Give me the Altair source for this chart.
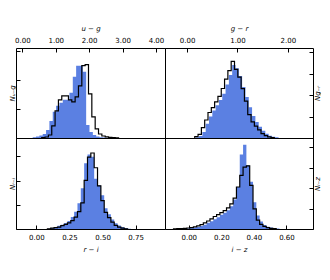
import altair as alt
import pandas as pd

BLUE = "#5b80e2"

# ---- u - g ----
ug_blue_start, ug_black_start, ug_width = 0.31, 0.58, 0.1
ug_blue = [0.024, 0.052, 0.086, 0.138, 0.276, 0.586, 0.897, 1.103, 1.207, 1.310, 1.310,
           1.552, 2.103, 2.483, 2.483, 2.276, 0.448, 0.207, 0.103, 0.052, 0.028, 0.014, 0.007]
ug_black = [0.010, 0.034, 0.103, 0.414, 0.931, 1.310, 1.448, 1.448, 1.310, 1.241, 1.414,
            1.793, 2.483, 2.517, 1.517, 0.724, 0.310, 0.138, 0.069, 0.041, 0.024, 0.014, 0.007]

# ---- g - r ----
gr_blue_start, gr_black_start, gr_width = 0.171, 0.151, 0.0658
gr_blue = [0.03, 0.09, 0.28, 0.66, 1.00, 1.28, 1.53, 1.77, 2.06, 2.50, 2.94, 3.41, 3.25,
           2.89, 2.38, 1.91, 1.44, 1.03, 0.75, 0.53, 0.34, 0.20, 0.11, 0.06, 0.03]
gr_black = [0.06, 0.17, 0.48, 0.84, 1.19, 1.42, 1.69, 1.94, 2.31, 2.75, 3.14, 3.58, 3.20,
            2.84, 2.30, 1.72, 1.09, 0.75, 0.55, 0.38, 0.20, 0.11, 0.05, 0.02]

# ---- r - i ----
ri_blue_start, ri_black_start, ri_width = 0.0833, 0.0833, 0.02525
ri_blue = [0.01, 0.04, 0.08, 0.13, 0.18, 0.25, 0.33, 0.50, 0.71, 1.06, 1.68, 2.72, 3.08,
           2.99, 2.08, 1.81, 1.39, 0.86, 0.61, 0.39, 0.24, 0.14, 0.08, 0.04, 0.01]
ri_black = [0.01, 0.04, 0.06, 0.08, 0.14, 0.19, 0.25, 0.35, 0.49, 0.72, 1.08, 2.01, 2.97,
            3.14, 2.53, 1.78, 1.17, 0.69, 0.47, 0.28, 0.15, 0.08, 0.04, 0.01]

# ---- i - z ----
iz_blue_start, iz_black_start, iz_width = -0.0936, -0.0936, 0.02034
iz_blue = [0.005, 0.01, 0.02, 0.02, 0.03, 0.05, 0.07, 0.10, 0.15, 0.21, 0.30, 0.38, 0.48,
           0.57, 0.69, 0.79, 0.92, 1.11, 1.44, 2.05, 3.64, 4.11, 3.11, 2.30, 1.31, 0.66,
           0.36, 0.20, 0.11, 0.07, 0.03, 0.02]
iz_black = [0.01, 0.02, 0.02, 0.03, 0.05, 0.07, 0.10, 0.15, 0.21, 0.30, 0.39, 0.49, 0.61,
            0.70, 0.80, 0.90, 1.03, 1.23, 1.51, 2.05, 2.62, 3.02, 3.08, 2.13, 0.98, 0.43,
            0.23, 0.13, 0.07, 0.03, 0.02]


def step_frame(start, width, values):
    """Outline of a step histogram: vertices in drawing order."""
    rows = [{"x": start, "n": 0.0}]
    for k, v in enumerate(values):
        rows.append({"x": start + k * width, "n": v})
        rows.append({"x": start + (k + 1) * width, "n": v})
    rows.append({"x": start + len(values) * width, "n": 0.0})
    df = pd.DataFrame(rows)
    df["i"] = range(len(df))
    return df


def panel(bstart, kstart, width, blue, black, xdom, ymax, xticks, yticks,
          xtitle, ytitle, xorient, yorient, w, h):
    xaxis = alt.Axis(orient=xorient, values=xticks, format=".2f", title=xtitle,
                     offset=-4, tickSize=4, domain=False, grid=False,
                     labelPadding=4.5, titlePadding=5, labelFlush=False)
    yaxis = alt.Axis(orient=yorient, values=yticks, labels=False, title=ytitle,
                     offset=-4, tickSize=4, domain=False, grid=False,
                     titlePadding=0 if yorient == "left" else 7,
                     titleAngle=270)
    x = alt.X("x:Q", scale=alt.Scale(domain=xdom, nice=False, zero=False), axis=xaxis)
    y = alt.Y("n:Q", scale=alt.Scale(domain=[0, ymax], nice=False), axis=yaxis, stack=None)
    area = alt.Chart(step_frame(bstart, width, blue)).mark_area(
        interpolate="linear", color=BLUE, opacity=1, strokeWidth=0
    ).encode(x=x, y=y)
    line = alt.Chart(step_frame(kstart, width, black)).mark_line(
        interpolate="linear", color="black", strokeWidth=1.2
    ).encode(x=x, y=y, order=alt.Order("i:Q"))
    return alt.layer(area, line).properties(width=w, height=h)


p1 = panel(ug_blue_start, ug_black_start, ug_width, ug_blue, ug_black,
           [-0.19, 4.27], 3.09, [0, 1, 2, 3, 4], [0, 1, 2, 3],
           "u − g", "Nᵤ₋g", "top", "left", 149, 90)
p2 = panel(gr_blue_start, gr_black_start, gr_width, gr_blue, gr_black,
           [-0.44, 2.50], 4.2, [0, 1, 2], [0, 1, 2, 3, 4],
           "g − r", "Ng₋ᵣ", "top", "right", 148, 90)
p3 = panel(ri_blue_start, ri_black_start, ri_width, ri_blue, ri_black,
           [-0.154, 0.972], 3.76, [0, 0.25, 0.5, 0.75], [0, 1, 2, 3],
           "r − i", "Nᵣ₋ᵢ", "bottom", "left", 149, 91)
p4 = panel(iz_blue_start, iz_black_start, iz_width, iz_blue, iz_black,
           [-0.146, 0.763], 4.44, [0, 0.2, 0.4, 0.6], [0, 1, 2, 3, 4],
           "i − z", "Nᵢ₋z", "bottom", "right", 148, 91)

chart = alt.concat(p1, p2, p3, p4, columns=2, spacing=0, bounds="flush").properties(
    padding={"left": 0, "top": 16, "right": 0, "bottom": 0}
).configure_view(
    stroke="black", strokeWidth=1
).configure_axis(
    labelFont="DejaVu Sans", labelFontSize=7, labelColor="black",
    tickColor="black", tickWidth=1,
    titleFont="DejaVu Sans", titleFontSize=7, titleFontStyle="italic",
    titleFontWeight="normal", titleColor="black",
)

chart.save("out.html", embed_options={"renderer": "svg", "actions": False})
